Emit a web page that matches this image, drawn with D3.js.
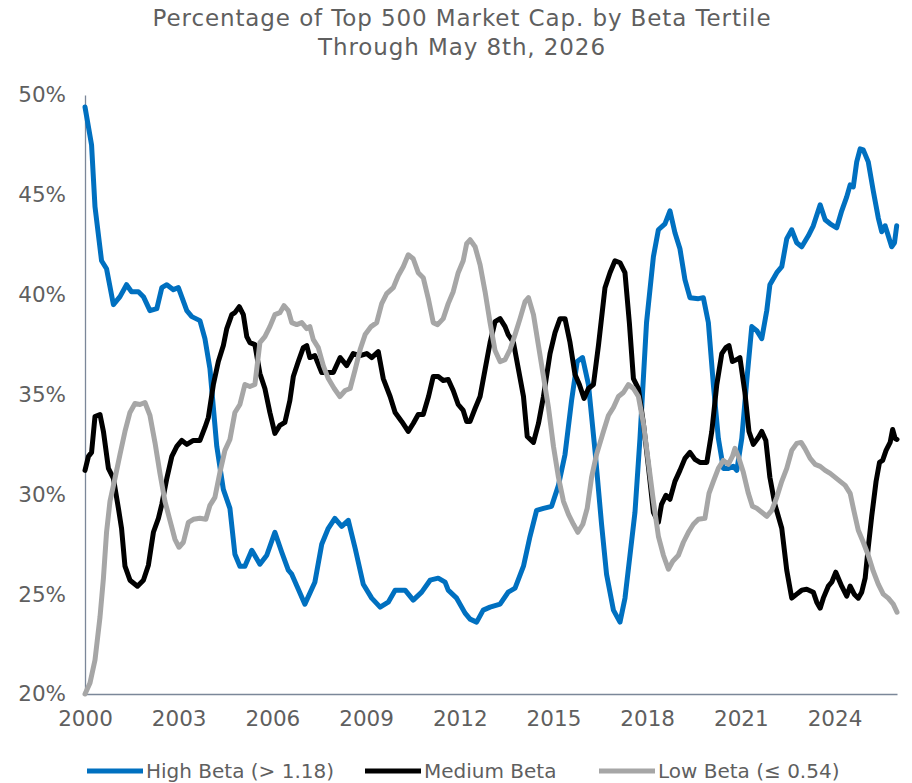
<!DOCTYPE html>
<html>
<head>
<meta charset="utf-8">
<script src="https://cdn.jsdelivr.net/npm/d3@7"></script>
<style>
  body { margin: 0; background: #fff; }
  svg text { font-family: "DejaVu Sans", "Open Sans", sans-serif; fill: #5f5f5f; }
</style>
</head>
<body>
<div id="chart"></div>
<script>
// values: [decimal year, % of top 500 market cap]
const highBeta = [
  [2000.0, 49.4], [2000.21, 47.5], [2000.32, 44.4], [2000.53, 41.7], [2000.69, 41.3], [2000.91, 39.5],
  [2001.12, 39.9], [2001.33, 40.5], [2001.49, 40.15], [2001.71, 40.15], [2001.87, 39.9], [2002.08, 39.2],
  [2002.3, 39.3], [2002.46, 40.35], [2002.62, 40.5], [2002.83, 40.25], [2002.99, 40.35], [2003.26, 39.2],
  [2003.42, 38.9], [2003.68, 38.7], [2003.84, 37.8], [2004.0, 36.3], [2004.22, 32.4], [2004.43, 30.25],
  [2004.64, 29.3], [2004.8, 27.0], [2004.96, 26.4], [2005.12, 26.4], [2005.34, 27.2], [2005.6, 26.5],
  [2005.82, 26.95], [2006.08, 28.1], [2006.3, 27.1], [2006.51, 26.2], [2006.62, 26.0], [2007.04, 24.5],
  [2007.36, 25.6], [2007.58, 27.5], [2007.79, 28.3], [2008.0, 28.8], [2008.22, 28.4], [2008.43, 28.7],
  [2008.65, 27.3], [2008.91, 25.5], [2009.18, 24.8], [2009.45, 24.35], [2009.71, 24.6], [2009.93, 25.2],
  [2010.25, 25.2], [2010.51, 24.7], [2010.78, 25.1], [2011.05, 25.7], [2011.31, 25.8], [2011.53, 25.6],
  [2011.63, 25.2], [2011.9, 24.8], [2012.17, 24.05], [2012.33, 23.75], [2012.54, 23.6], [2012.75, 24.2],
  [2012.97, 24.35], [2013.29, 24.5], [2013.55, 25.1], [2013.77, 25.3], [2014.04, 26.4], [2014.25, 27.9],
  [2014.46, 29.2], [2014.68, 29.3], [2014.94, 29.4], [2015.16, 30.45], [2015.37, 32.0], [2015.58, 34.7],
  [2015.76, 36.65], [2015.93, 36.85], [2016.12, 35.5], [2016.33, 32.2], [2016.54, 28.5], [2016.7, 26.0],
  [2016.92, 24.2], [2017.13, 23.6], [2017.29, 24.8], [2017.45, 26.95], [2017.61, 29.1], [2017.77, 32.8],
  [2017.98, 38.6], [2018.2, 41.9], [2018.36, 43.25], [2018.57, 43.55], [2018.73, 44.2], [2018.89, 43.1],
  [2019.05, 42.3], [2019.21, 40.75], [2019.37, 39.85], [2019.64, 39.8], [2019.8, 39.85], [2019.96, 38.6],
  [2020.12, 35.5], [2020.28, 32.8], [2020.44, 31.3], [2020.6, 31.3], [2020.76, 31.4], [2020.87, 31.2],
  [2021.03, 32.8], [2021.19, 35.7], [2021.35, 38.4], [2021.51, 38.2], [2021.67, 37.8], [2021.83, 39.2],
  [2021.93, 40.5], [2022.15, 41.1], [2022.31, 41.4], [2022.47, 42.8], [2022.63, 43.25], [2022.79, 42.6],
  [2022.95, 42.4], [2023.16, 42.95], [2023.32, 43.45], [2023.54, 44.5], [2023.7, 43.75], [2023.86, 43.55],
  [2024.07, 43.35], [2024.23, 44.2], [2024.39, 44.9], [2024.5, 45.5], [2024.6, 45.4], [2024.71, 46.65],
  [2024.82, 47.3], [2024.92, 47.25], [2025.08, 46.65], [2025.24, 45.2], [2025.4, 43.85], [2025.51, 43.15],
  [2025.62, 43.45], [2025.72, 42.95], [2025.83, 42.4], [2025.92, 42.6], [2025.99, 43.45]
];

const mediumBeta = [
  [2000.0, 31.2], [2000.11, 31.9], [2000.21, 32.1], [2000.32, 33.9], [2000.48, 34.0], [2000.59, 33.15],
  [2000.75, 31.3], [2000.91, 30.8], [2001.07, 29.3], [2001.17, 28.3], [2001.28, 26.4], [2001.44, 25.7],
  [2001.68, 25.4], [2001.87, 25.7], [2002.03, 26.45], [2002.19, 28.1], [2002.35, 28.8], [2002.46, 29.5],
  [2002.62, 30.8], [2002.78, 31.9], [2002.94, 32.4], [2003.1, 32.7], [2003.26, 32.5], [2003.47, 32.7],
  [2003.68, 32.7], [2003.84, 33.35], [2003.95, 33.85], [2004.11, 35.5], [2004.27, 36.65], [2004.43, 37.45],
  [2004.54, 38.3], [2004.7, 39.0], [2004.8, 39.1], [2004.94, 39.4], [2005.07, 39.0], [2005.18, 37.9],
  [2005.28, 37.6], [2005.44, 37.5], [2005.6, 36.05], [2005.76, 35.3], [2005.92, 34.1], [2006.08, 33.05],
  [2006.24, 33.45], [2006.4, 33.6], [2006.56, 34.7], [2006.67, 35.9], [2006.83, 36.65], [2006.99, 37.35],
  [2007.1, 37.45], [2007.2, 36.85], [2007.36, 36.95], [2007.58, 36.1], [2007.79, 36.1], [2007.95, 36.1],
  [2008.17, 36.85], [2008.38, 36.45], [2008.59, 37.05], [2008.81, 36.95], [2009.02, 37.05], [2009.18, 36.85],
  [2009.39, 37.15], [2009.55, 35.8], [2009.77, 34.9], [2009.93, 34.1], [2010.14, 33.65], [2010.35, 33.15],
  [2010.51, 33.55], [2010.67, 34.0], [2010.83, 34.0], [2011.0, 34.9], [2011.15, 35.9], [2011.31, 35.9],
  [2011.47, 35.7], [2011.63, 35.75], [2011.79, 35.2], [2011.95, 34.5], [2012.11, 34.2], [2012.22, 33.65],
  [2012.33, 33.65], [2012.49, 34.3], [2012.65, 34.9], [2012.81, 36.25], [2012.97, 37.6], [2013.13, 38.65],
  [2013.29, 38.8], [2013.45, 38.4], [2013.55, 38.0], [2013.72, 37.6], [2013.88, 36.25], [2014.04, 34.9],
  [2014.16, 32.9], [2014.36, 32.6], [2014.52, 33.55], [2014.68, 34.9], [2014.89, 37.05], [2015.05, 38.1],
  [2015.21, 38.8], [2015.37, 38.8], [2015.53, 37.6], [2015.69, 36.0], [2015.83, 35.5], [2015.98, 34.8],
  [2016.12, 35.3], [2016.28, 35.5], [2016.44, 37.45], [2016.65, 40.35], [2016.81, 41.1], [2016.97, 41.7],
  [2017.13, 41.6], [2017.29, 41.1], [2017.43, 38.6], [2017.56, 35.8], [2017.72, 35.3], [2017.88, 33.55],
  [2018.04, 31.4], [2018.2, 29.1], [2018.36, 28.6], [2018.46, 29.5], [2018.6, 29.95], [2018.73, 29.75],
  [2018.89, 30.65], [2019.05, 31.2], [2019.21, 31.8], [2019.37, 32.1], [2019.53, 31.75], [2019.69, 31.6],
  [2019.91, 31.6], [2020.07, 33.15], [2020.23, 35.5], [2020.39, 37.05], [2020.52, 37.35], [2020.62, 37.45],
  [2020.73, 36.65], [2020.87, 36.75], [2020.97, 36.85], [2021.13, 35.1], [2021.26, 33.15], [2021.4, 32.5],
  [2021.56, 32.85], [2021.67, 33.15], [2021.8, 32.7], [2021.93, 30.85], [2022.09, 29.5], [2022.31, 28.3],
  [2022.47, 26.2], [2022.63, 24.8], [2022.79, 25.0], [2022.95, 25.2], [2023.11, 25.25], [2023.32, 25.1],
  [2023.43, 24.6], [2023.54, 24.3], [2023.64, 24.8], [2023.8, 25.4], [2023.91, 25.6], [2024.04, 26.1],
  [2024.23, 25.4], [2024.39, 24.9], [2024.5, 25.4], [2024.63, 25.0], [2024.76, 24.8], [2024.87, 25.1],
  [2024.98, 25.8], [2025.08, 27.35], [2025.19, 28.9], [2025.33, 30.65], [2025.44, 31.6], [2025.54, 31.7],
  [2025.65, 32.2], [2025.78, 32.6], [2025.86, 33.25], [2025.94, 32.8], [2026.0, 32.75]
];

const lowBeta = [
  [2000.0, 20.0], [2000.16, 20.55], [2000.32, 21.7], [2000.48, 23.85], [2000.59, 25.8], [2000.69, 28.1],
  [2000.8, 29.65], [2000.96, 30.8], [2001.12, 32.0], [2001.28, 33.15], [2001.44, 34.1], [2001.6, 34.55],
  [2001.76, 34.5], [2001.92, 34.6], [2002.08, 33.95], [2002.24, 32.6], [2002.4, 31.05], [2002.56, 29.65],
  [2002.72, 28.7], [2002.88, 27.75], [2003.01, 27.35], [2003.15, 27.6], [2003.31, 28.6], [2003.47, 28.75],
  [2003.68, 28.8], [2003.87, 28.75], [2004.0, 29.45], [2004.16, 29.85], [2004.32, 31.1], [2004.48, 32.2],
  [2004.64, 32.75], [2004.8, 34.1], [2004.96, 34.5], [2005.12, 35.5], [2005.28, 35.4], [2005.44, 35.5],
  [2005.6, 37.6], [2005.76, 37.9], [2005.92, 38.4], [2006.08, 39.0], [2006.24, 39.1], [2006.37, 39.45],
  [2006.51, 39.2], [2006.62, 38.6], [2006.78, 38.5], [2006.94, 38.6], [2007.1, 38.3], [2007.2, 38.4],
  [2007.31, 37.75], [2007.47, 37.35], [2007.63, 36.45], [2007.79, 35.8], [2007.98, 35.3], [2008.16, 34.9],
  [2008.33, 35.2], [2008.49, 35.3], [2008.65, 36.25], [2008.81, 37.25], [2008.97, 38.0], [2009.16, 38.4],
  [2009.34, 38.6], [2009.5, 39.55], [2009.66, 40.05], [2009.87, 40.35], [2010.03, 40.95], [2010.19, 41.4],
  [2010.35, 42.0], [2010.51, 41.8], [2010.67, 41.1], [2010.83, 40.85], [2011.0, 39.75], [2011.15, 38.6],
  [2011.29, 38.5], [2011.47, 38.8], [2011.63, 39.55], [2011.79, 40.15], [2011.95, 41.1], [2012.11, 41.7],
  [2012.22, 42.55], [2012.33, 42.75], [2012.49, 42.4], [2012.65, 41.5], [2012.81, 40.15], [2012.97, 38.6],
  [2013.13, 37.2], [2013.29, 36.65], [2013.45, 36.75], [2013.61, 37.25], [2013.77, 38.0], [2013.93, 38.8],
  [2014.09, 39.65], [2014.2, 39.85], [2014.36, 39.0], [2014.52, 37.45], [2014.68, 35.9], [2014.84, 34.35],
  [2015.0, 32.4], [2015.16, 30.85], [2015.32, 29.65], [2015.48, 29.0], [2015.64, 28.5], [2015.78, 28.1],
  [2015.94, 28.5], [2016.08, 29.3], [2016.22, 30.85], [2016.38, 32.0], [2016.6, 33.15], [2016.76, 33.95],
  [2016.92, 34.35], [2017.08, 34.9], [2017.24, 35.1], [2017.4, 35.5], [2017.56, 35.3], [2017.72, 34.9],
  [2017.88, 33.55], [2018.04, 31.6], [2018.2, 29.65], [2018.36, 27.9], [2018.52, 26.95], [2018.68, 26.25],
  [2018.82, 26.65], [2019.0, 26.95], [2019.16, 27.6], [2019.32, 28.1], [2019.48, 28.5], [2019.64, 28.75],
  [2019.85, 28.8], [2019.98, 30.05], [2020.12, 30.65], [2020.28, 31.3], [2020.44, 31.7], [2020.6, 31.5],
  [2020.73, 31.9], [2020.81, 32.3], [2020.92, 31.9], [2021.08, 31.1], [2021.24, 30.05], [2021.37, 29.4],
  [2021.51, 29.3], [2021.67, 29.1], [2021.83, 28.9], [2021.99, 29.2], [2022.15, 29.85], [2022.31, 30.65],
  [2022.47, 31.3], [2022.63, 32.2], [2022.79, 32.55], [2022.93, 32.6], [2023.05, 32.3], [2023.22, 31.8],
  [2023.38, 31.5], [2023.54, 31.4], [2023.7, 31.2], [2023.86, 31.05], [2024.02, 30.85], [2024.18, 30.65],
  [2024.34, 30.45], [2024.5, 30.05], [2024.63, 29.1], [2024.76, 28.2], [2024.92, 27.6], [2025.08, 26.95],
  [2025.24, 26.15], [2025.4, 25.5], [2025.56, 25.0], [2025.72, 24.8], [2025.88, 24.5], [2026.0, 24.1]
];

const seriesNames = ['High Beta (> 1.18)', 'Medium Beta', 'Low Beta (\u2264 0.54)'];
const seriesColors = ['#0070c0', '#000000', '#a6a6a6'];
const yearTicks = [2000, 2003, 2006, 2009, 2012, 2015, 2018, 2021, 2024];
const pctTicks = [20, 25, 30, 35, 40, 45, 50];
const titleLines = ['Percentage of Top 500 Market Cap. by Beta Tertile', 'Through May 8th, 2026'];

const W = 912, H = 783;
const margin = { top: 95, right: 15, bottom: 89, left: 85 };

const svg = d3.select('#chart').append('svg')
  .attr('width', W)
  .attr('height', H);

const x = d3.scaleLinear().domain([2000, 2026]).range([margin.left, W - margin.right]);
const y = d3.scaleLinear().domain([20, 50]).range([H - margin.bottom, margin.top]);

// title
svg.append('g').selectAll('text')
  .data(titleLines)
  .enter()
  .append('text')
  .attr('x', 462)
  .attr('y', (d, i) => 26 + i * 29)
  .attr('text-anchor', 'middle')
  .style('font-size', '23px')
  .style('letter-spacing', '0.9px')
  .text(d => d);

// axes
const xAxis = svg.append('g')
  .attr('transform', `translate(0,${y(20)})`)
  .call(d3.axisBottom(x).tickValues(yearTicks).tickFormat(d3.format('d')).tickSize(0).tickPadding(17));
const yAxis = svg.append('g')
  .attr('transform', `translate(${x(2000)},0)`)
  .call(d3.axisLeft(y).tickValues(pctTicks).tickFormat(d => d + '%').tickSize(0).tickPadding(19));

[xAxis, yAxis].forEach(a => {
  a.select('.domain').attr('stroke', '#7b8799').attr('stroke-width', 1.3);
  a.selectAll('text').style('font-size', '21.5px').attr('fill', '#5f5f5f');
});

// lines
const line = d3.line()
  .x(d => x(d[0]))
  .y(d => y(d[1]));

svg.append('g')
  .selectAll('path')
  .data([highBeta, mediumBeta, lowBeta])
  .enter()
  .append('path')
  .attr('d', line)
  .attr('fill', 'none')
  .attr('stroke', (d, i) => seriesColors[i])
  .attr('stroke-width', 5)
  .attr('stroke-linejoin', 'round')
  .attr('stroke-linecap', 'round');

// legend
const legendX = [87, 365, 599];
const legend = svg.append('g')
  .selectAll('g')
  .data(seriesNames)
  .enter()
  .append('g')
  .attr('transform', (d, i) => `translate(${legendX[i]},771)`);

legend.append('line')
  .attr('x1', 0).attr('x2', 56)
  .attr('stroke', (d, i) => seriesColors[i])
  .attr('stroke-width', 5);

legend.append('text')
  .attr('x', 59)
  .attr('dy', '0.36em')
  .style('font-size', '20px')
  .text(d => d);
</script>
</body>
</html>
